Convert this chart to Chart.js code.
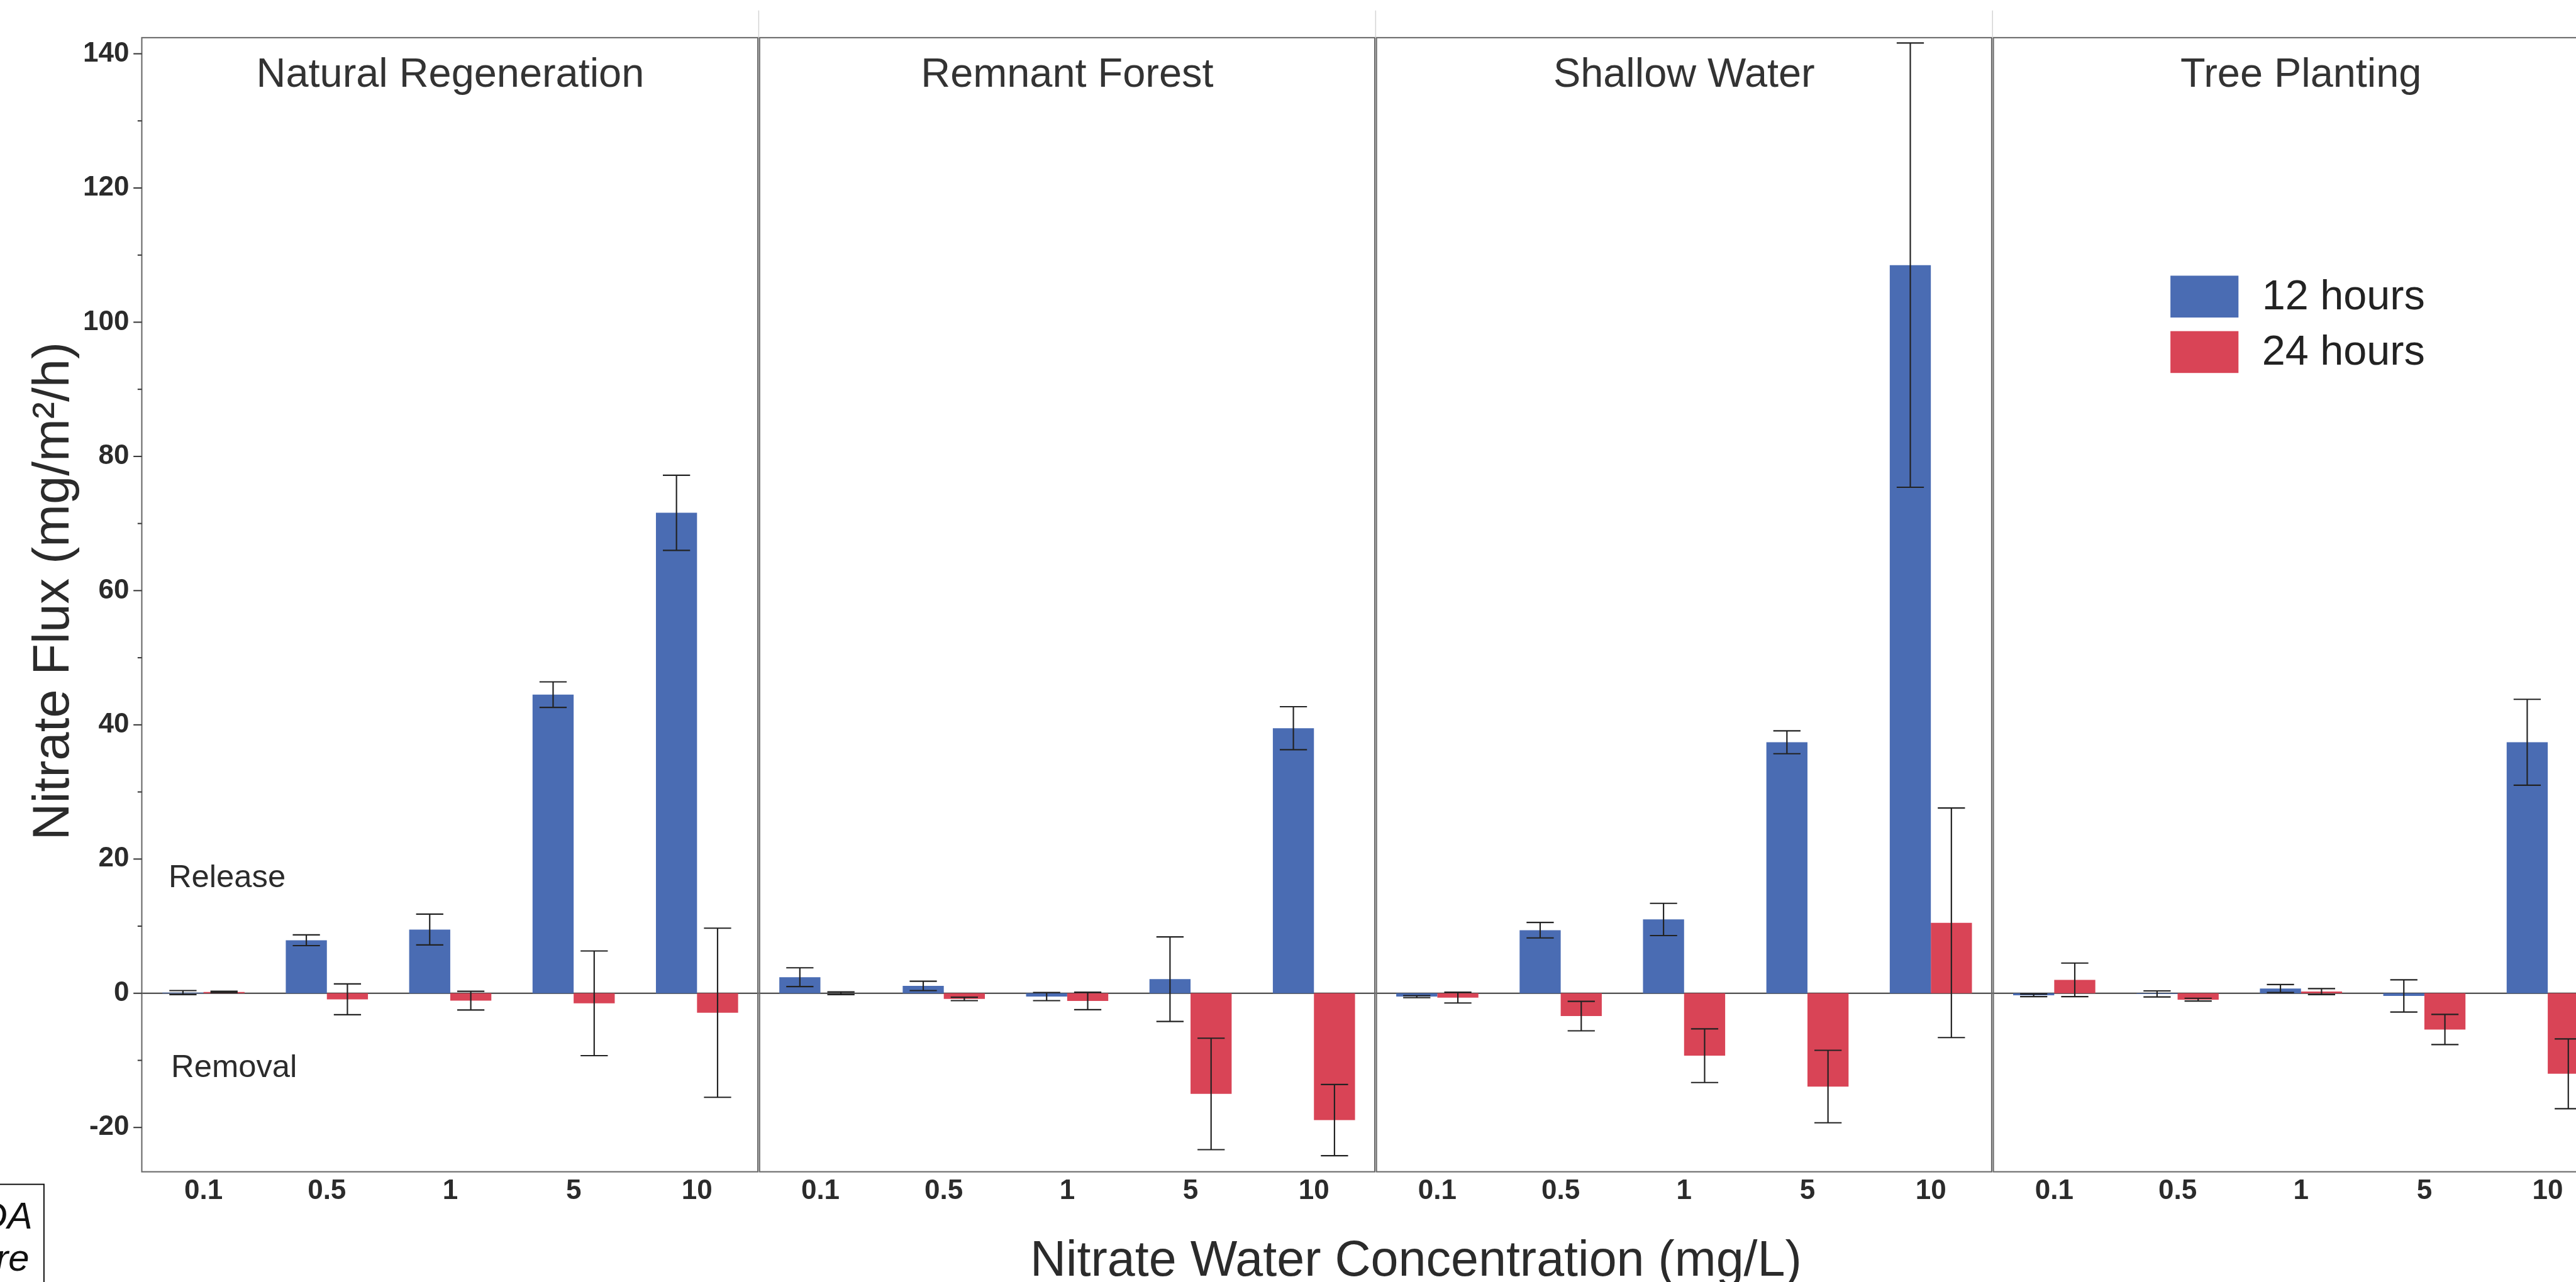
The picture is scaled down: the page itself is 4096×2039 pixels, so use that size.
<!DOCTYPE html>
<html>
<head>
<meta charset="utf-8">
<title>Nitrate Flux</title>
<script src="https://cdn.jsdelivr.net/npm/chart.js@4.4.1/dist/chart.umd.min.js"></script>
<style>
  html, body { margin: 0; padding: 0; overflow: hidden; background: #fff; }
  #wrap { width: 4160px; height: 2039px; }
</style>
</head>
<body>
<div id="wrap"><canvas id="fluxChart" width="4160" height="2039"></canvas></div>
<script>
// panels and the nitrate water concentrations (mg/L) inside each panel
const sites = ['Natural Regeneration', 'Remnant Forest', 'Shallow Water', 'Tree Planting'];
const concentrations = ['0.1', '0.5', '1', '5', '10'];

// nitrate flux (mg/m2/h), 5 concentrations per site, sites in the order above
const flux12h = [0.1, 7.9, 9.5, 44.5, 71.6,   2.4, 1.1, -0.5, 2.1, 39.5,
                 -0.5, 9.4, 11.0, 37.4, 108.5,   -0.3, -0.1, 0.7, -0.4, 37.4];
const err12h  = [0.3, 0.8, 2.3, 1.9, 5.6,   1.4, 0.7, 0.6, 6.3, 3.2,
                 0.15, 1.15, 2.4, 1.7, 33.1,   0.2, 0.45, 0.6, 2.4, 6.4];
const flux24h = [0.2, -0.9, -1.1, -1.5, -2.9,   0.0, -0.85, -1.15, -15.0, -18.9,
                 -0.65, -3.4, -9.3, -13.9, 10.5,   2.0, -0.95, 0.25, -5.4, -12.0];
const err24h  = [0.1, 2.3, 1.4, 7.8, 12.6,   0.2, 0.25, 1.3, 8.3, 5.3,
                 0.8, 2.2, 4.0, 5.4, 17.1,   2.5, 0.2, 0.45, 2.25, 5.2];

// y axis ticks; only every second one gets a label
const yTickValues = [-20, -10, 0, 10, 20, 30, 40, 50, 60, 70, 80, 90, 100, 110, 120, 130, 140];

const S = 0.832; // reference -> window scale
const blue = '#4a6cb3';
const red = '#d94456';
const ink = '#2b2b2b';
const family = "'Liberation Sans', Arial, Helvetica, sans-serif";

Chart.defaults.font.family = family;
Chart.defaults.color = ink;

// x pixel of the borders between the site panels
function panelEdges(chart) {
  const { chartArea: a, scales: { x } } = chart;
  const n = concentrations.length;
  const edges = [a.left];
  for (let p = 1; p < sites.length; p++) {
    edges.push((x.getPixelForValue(p * n - 1) + x.getPixelForValue(p * n)) / 2);
  }
  edges.push(a.right);
  return edges;
}

const panelPlugin = {
  id: 'panels',
  beforeDatasetsDraw(chart) {
    const { ctx, scales: { y } } = chart;
    const edges = panelEdges(chart);
    ctx.save();
    // zero line in every panel
    const y0 = y.getPixelForValue(0);
    ctx.strokeStyle = '#3a3a3a';
    ctx.lineWidth = 2.5 * S;
    for (let i = 0; i < sites.length; i++) {
      ctx.beginPath();
      ctx.moveTo(edges[i], y0);
      ctx.lineTo(edges[i + 1], y0);
      ctx.stroke();
    }
    ctx.restore();
  },
  afterDatasetsDraw(chart) {
    const { ctx, chartArea: a, scales: { y } } = chart;
    const edges = panelEdges(chart);
    ctx.save();

    // error bars
    ctx.strokeStyle = '#222';
    ctx.lineWidth = 2.6 * S;
    const cap = 52 * S / 2;
    chart.data.datasets.forEach((ds, di) => {
      chart.getDatasetMeta(di).data.forEach((bar, i) => {
        const v = ds.data[i], e = ds.errors[i];
        const yt = y.getPixelForValue(v + e);
        const yb = y.getPixelForValue(v - e);
        ctx.beginPath();
        ctx.moveTo(bar.x, yt); ctx.lineTo(bar.x, yb);
        ctx.moveTo(bar.x - cap, yt); ctx.lineTo(bar.x + cap, yt);
        ctx.moveTo(bar.x - cap, yb); ctx.lineTo(bar.x + cap, yb);
        ctx.stroke();
      });
    });

    // panel frames
    ctx.strokeStyle = '#6a6a6a';
    ctx.lineWidth = 2.5 * S;
    const g = 1.6 * S;
    for (let i = 0; i < sites.length; i++) {
      const l = i === 0 ? edges[i] : edges[i] + g;
      const r = i === sites.length - 1 ? edges[i + 1] : edges[i + 1] - g;
      ctx.strokeRect(l, a.top, r - l, a.bottom - a.top);
    }
    // faint strip lines above the panels
    ctx.strokeStyle = '#d4d4d4';
    ctx.lineWidth = 1.5;
    for (let i = 1; i < sites.length; i++) {
      ctx.beginPath();
      ctx.moveTo(edges[i], 20 * S);
      ctx.lineTo(edges[i], a.top);
      ctx.stroke();
    }

    // y tick marks: long at labelled values, short between
    ctx.strokeStyle = '#333';
    ctx.lineWidth = 2.4 * S;
    y.ticks.forEach(t => {
      const py = y.getPixelForValue(t.value);
      const len = (t.value % 20 === 0 ? 16 : 8) * S;
      ctx.beginPath();
      ctx.moveTo(a.left - len, py);
      ctx.lineTo(a.left, py);
      ctx.stroke();
    });

    // panel titles
    ctx.fillStyle = '#333';
    ctx.font = `${78 * S}px ${family}`;
    ctx.textAlign = 'center';
    ctx.textBaseline = 'alphabetic';
    sites.forEach((s, i) => ctx.fillText(s, (edges[i] + edges[i + 1]) / 2, 166 * S));

    // release / removal notes
    ctx.fillStyle = ink;
    ctx.font = `${61 * S}px ${family}`;
    ctx.textAlign = 'left';
    ctx.fillText('Release', 322 * S, 1696 * S);
    ctx.fillText('Removal', 327 * S, 2059 * S);

    // legend
    ctx.font = `${80 * S}px ${family}`;
    ctx.textBaseline = 'middle';
    chart.data.datasets.forEach((ds, di) => {
      const top = (527 + di * 106) * S;
      ctx.fillStyle = ds.backgroundColor;
      ctx.fillRect(4148 * S, top, 130 * S, 80 * S);
      ctx.fillStyle = '#222';
      ctx.fillText(ds.label, 4323 * S, top + 42 * S);
    });

    // axis titles
    ctx.fillStyle = '#2b2b2b';
    ctx.font = `${95 * S}px ${family}`;
    ctx.textAlign = 'center';
    ctx.textBaseline = 'alphabetic';
    ctx.fillText('Nitrate Water Concentration (mg/L)', 2706 * S, 2439 * S);
    ctx.save();
    ctx.font = `${98 * S}px ${family}`;
    ctx.translate(131 * S, 1130 * S);
    ctx.rotate(-Math.PI / 2);
    ctx.fillText('Nitrate Flux (mg/m\u00b2/h)', 0, 0);
    ctx.restore();

    // clipped box in the lower left corner
    ctx.strokeStyle = '#111';
    ctx.lineWidth = 2;
    ctx.strokeRect(-10, 2264 * S, 84 * S + 10, 400);
    ctx.fillStyle = '#111';
    ctx.font = `italic ${72 * S}px ${family}`;
    ctx.textAlign = 'right';
    ctx.fillText('DA', 62 * S, 2348 * S);
    ctx.fillText('re', 56 * S, 2429 * S);

    ctx.restore();
  }
};

new Chart(document.getElementById('fluxChart'), {
  type: 'bar',
  data: {
    labels: sites.flatMap(() => concentrations),
    datasets: [
      { label: '12 hours', data: flux12h, errors: err12h, backgroundColor: blue },
      { label: '24 hours', data: flux24h, errors: err24h, backgroundColor: red }
    ]
  },
  options: {
    responsive: false,
    animation: false,
    devicePixelRatio: 1,
    categoryPercentage: 0.666,
    barPercentage: 1.0,
    layout: { padding: { top: 72 * S, right: 4160 - 4987 * S, bottom: 0, left: 0 } },
    plugins: {
      legend: { display: false },
      tooltip: { enabled: false }
    },
    scales: {
      x: {
        grid: { display: false, drawTicks: false },
        border: { display: false },
        ticks: {
          autoSkip: false,
          maxRotation: 0,
          padding: 5,
          color: ink,
          font: { size: 44, weight: 'bold' }
        },
        afterFit: s => { s.height = 2039 - 2240 * S; }
      },
      y: {
        min: -26.6,
        max: 142.4,
        grid: { display: false, drawTicks: false },
        border: { display: false },
        ticks: {
          includeBounds: false,
          padding: 20,
          color: ink,
          font: { size: 44, weight: 'bold' },
          callback: v => (v % 20 === 0 ? v : '')
        },
        afterBuildTicks: s => { s.ticks = yTickValues.map(v => ({ value: v })); },
        afterFit: s => { s.width = 271 * S; }
      }
    }
  },
  plugins: [panelPlugin]
});
</script>
</body>
</html>
